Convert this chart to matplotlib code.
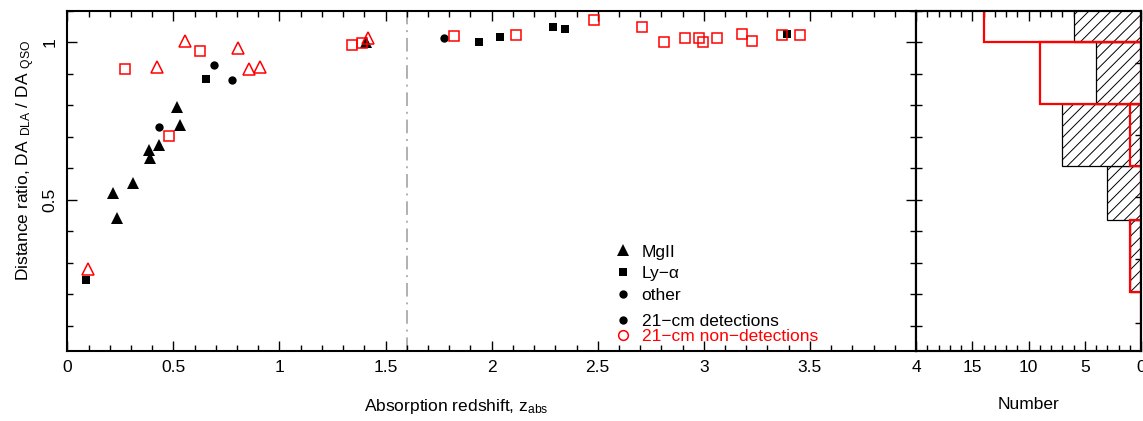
import numpy as np
import matplotlib
matplotlib.use('Agg')
import matplotlib.pyplot as plt
from matplotlib.lines import Line2D
from matplotlib.ticker import MultipleLocator, FixedLocator, FuncFormatter, NullFormatter

plt.rcParams['font.family'] = ['Liberation Sans', 'DejaVu Sans']
plt.rcParams['mathtext.fontset'] = 'custom'
plt.rcParams['mathtext.rm'] = 'Liberation Sans'
plt.rcParams['mathtext.it'] = 'Liberation Sans:italic'
plt.rcParams['hatch.linewidth'] = 0.7

# 21-cm detections (black, filled)
mg_det_z = [0.519, 0.530, 0.431, 0.387, 0.390, 0.308, 0.216, 0.234, 1.409]
mg_det_r = [0.795, 0.739, 0.673, 0.658, 0.631, 0.554, 0.520, 0.442, 1.002]
lya_det_z = [0.087, 0.653, 1.942, 2.040, 2.291, 2.346, 3.390]
lya_det_r = [0.244, 0.884, 1.002, 1.018, 1.050, 1.042, 1.027]
oth_det_z = [0.432, 0.689, 0.775, 1.774]
oth_det_r = [0.730, 0.927, 0.879, 1.013]

# 21-cm non-detections (red, open)
mg_non_z = [0.096, 0.425, 0.555, 0.804, 0.856, 0.907, 1.417]
mg_non_r = [0.281, 0.922, 1.004, 0.981, 0.914, 0.922, 1.013]
lya_non_z = [0.272, 0.480, 0.626, 1.342, 1.389, 1.821, 2.117, 2.484, 2.708,
             2.811, 2.909, 2.976, 2.997, 3.063, 3.181, 3.225, 3.368, 3.451]
lya_non_r = [0.914, 0.703, 0.973, 0.991, 0.999, 1.021, 1.023, 1.071, 1.050,
             1.000, 1.015, 1.013, 1.001, 1.014, 1.027, 1.006, 1.022, 1.025]

# histogram of the distance ratio
hist_edges = [0.0, 0.207, 0.435, 0.606, 0.803, 1.0, 1.2]
det_counts = [0, 1, 3, 7, 4, 6]
non_counts = [0, 1, 0, 1, 9, 14]

# right-hand ticks of the histogram panel
hist_right_ticks = [0.107, 0.313, 0.507, 0.705, 0.933]

z_split = 1.6
FS = 12.5


def main():
    fig = plt.figure(figsize=(11.43, 4.21), dpi=100)
    ax = fig.add_axes([0.0589, 0.167, 0.7425, 0.807])
    axh = fig.add_axes([0.8014, 0.167, 0.1969, 0.807])

    # scatter points
    ax.plot(mg_det_z, mg_det_r, '^', color='black', ms=9, mew=0, zorder=3)
    ax.plot(lya_det_z, lya_det_r, 's', color='black', ms=5.5, mew=0, zorder=3)
    ax.plot(oth_det_z, oth_det_r, 'o', color='black', ms=6, mew=0, zorder=3)
    ax.plot(mg_non_z, mg_non_r, '^', mfc='none', mec='red', ms=8.5, mew=1.1, zorder=3)
    ax.plot(lya_non_z, lya_non_r, 's', mfc='none', mec='red', ms=7, mew=1.1, zorder=3)

    ax.axvline(z_split, color='#b0b0b0', lw=1.4, ls=(0, (7, 3, 1, 3)), zorder=1)

    ax.set_xlim(0, 4)
    ax.set_ylim(0.02, 1.1)
    ax.xaxis.set_major_locator(MultipleLocator(0.5))
    ax.xaxis.set_minor_locator(MultipleLocator(0.1))
    ax.yaxis.set_major_locator(MultipleLocator(0.5))
    ax.yaxis.set_minor_locator(MultipleLocator(0.1))
    fmt = FuncFormatter(lambda v, p: '%g' % v)
    ax.xaxis.set_major_formatter(fmt)
    ax.yaxis.set_major_formatter(fmt)
    ax.tick_params(which='both', direction='in', top=True, right=True, width=1,
                   labelsize=FS)
    ax.tick_params(which='major', length=7, pad=7)
    ax.tick_params(which='minor', length=4)
    for lab in ax.get_yticklabels():
        lab.set_rotation(90)
        lab.set_va('center')

    ax.set_xlabel('Absorption redshift, z$_{\\rm abs}$', fontsize=FS)
    ax.xaxis.set_label_coords(0.458, -0.135)
    ax.set_ylabel('Distance ratio, DA $_{\\rm DLA}$ / DA $_{\\rm QSO}$', fontsize=FS)
    ax.yaxis.set_label_coords(-0.036, 0.561)

    # legends: type of absorber and detection status
    h1 = [Line2D([], [], ls='none', marker='^', color='black', ms=9, mew=0),
          Line2D([], [], ls='none', marker='s', color='black', ms=5.5, mew=0),
          Line2D([], [], ls='none', marker='o', color='black', ms=6, mew=0)]
    leg1 = ax.legend(h1, ['MgII', 'Ly\u2212\u03b1', 'other'], loc='upper left',
                     bbox_to_anchor=(0.644, 0.313), frameon=False, fontsize=FS,
                     borderpad=0, borderaxespad=0, handlelength=1.0,
                     handletextpad=0.6, labelspacing=0.38)
    ax.add_artist(leg1)
    h2 = [Line2D([], [], ls='none', marker='o', color='black', ms=6, mew=0),
          Line2D([], [], ls='none', marker='o', mfc='none', mec='red', ms=7, mew=1.1)]
    leg2 = ax.legend(h2, ['21\u2212cm detections', '21\u2212cm non\u2212detections'],
                     loc='upper left', bbox_to_anchor=(0.644, 0.108), frameon=False,
                     fontsize=FS, borderpad=0, borderaxespad=0, handlelength=1.0,
                     handletextpad=0.6, labelspacing=-0.02)
    leg2.get_texts()[1].set_color('red')

    # histogram panel
    bottoms = np.array(hist_edges[:-1])
    heights = np.diff(hist_edges)
    axh.barh(bottoms, det_counts, height=heights, align='edge', facecolor='white',
             edgecolor='black', hatch='///', lw=0.9, zorder=2)
    axh.barh(bottoms, non_counts, height=heights, align='edge', fill=False,
             edgecolor='red', lw=1.6, zorder=3)
    axh.set_xlim(20, 0)
    axh.set_ylim(0.02, 1.1)
    axh.xaxis.set_major_locator(MultipleLocator(5))
    axh.xaxis.set_minor_locator(MultipleLocator(1))
    axh.xaxis.set_major_formatter(FuncFormatter(lambda v, p: '' if v >= 20 else '%g' % v))
    axh.yaxis.set_major_locator(MultipleLocator(0.1))
    axh.yaxis.set_major_formatter(NullFormatter())
    axh.tick_params(which='both', direction='in', top=True, left=True, right=False,
                    width=1, labelsize=FS)
    axh.tick_params(axis='x', which='major', length=7, pad=7)
    axh.tick_params(axis='x', which='minor', length=4)
    axh.tick_params(axis='y', which='major', length=4)
    axh.set_xlabel('Number', fontsize=FS)
    axh.xaxis.set_label_coords(0.5, -0.135)

    axr = axh.twinx()
    axr.set_ylim(0.02, 1.1)
    axr.yaxis.set_major_locator(FixedLocator(hist_right_ticks))
    axr.yaxis.set_major_formatter(NullFormatter())
    axr.tick_params(direction='in', length=4, width=1)

    for a in (ax, axh, axr):
        for s in a.spines.values():
            s.set_linewidth(1.5)

    fig.savefig('out.png', dpi=100)


if __name__ == '__main__':
    main()
